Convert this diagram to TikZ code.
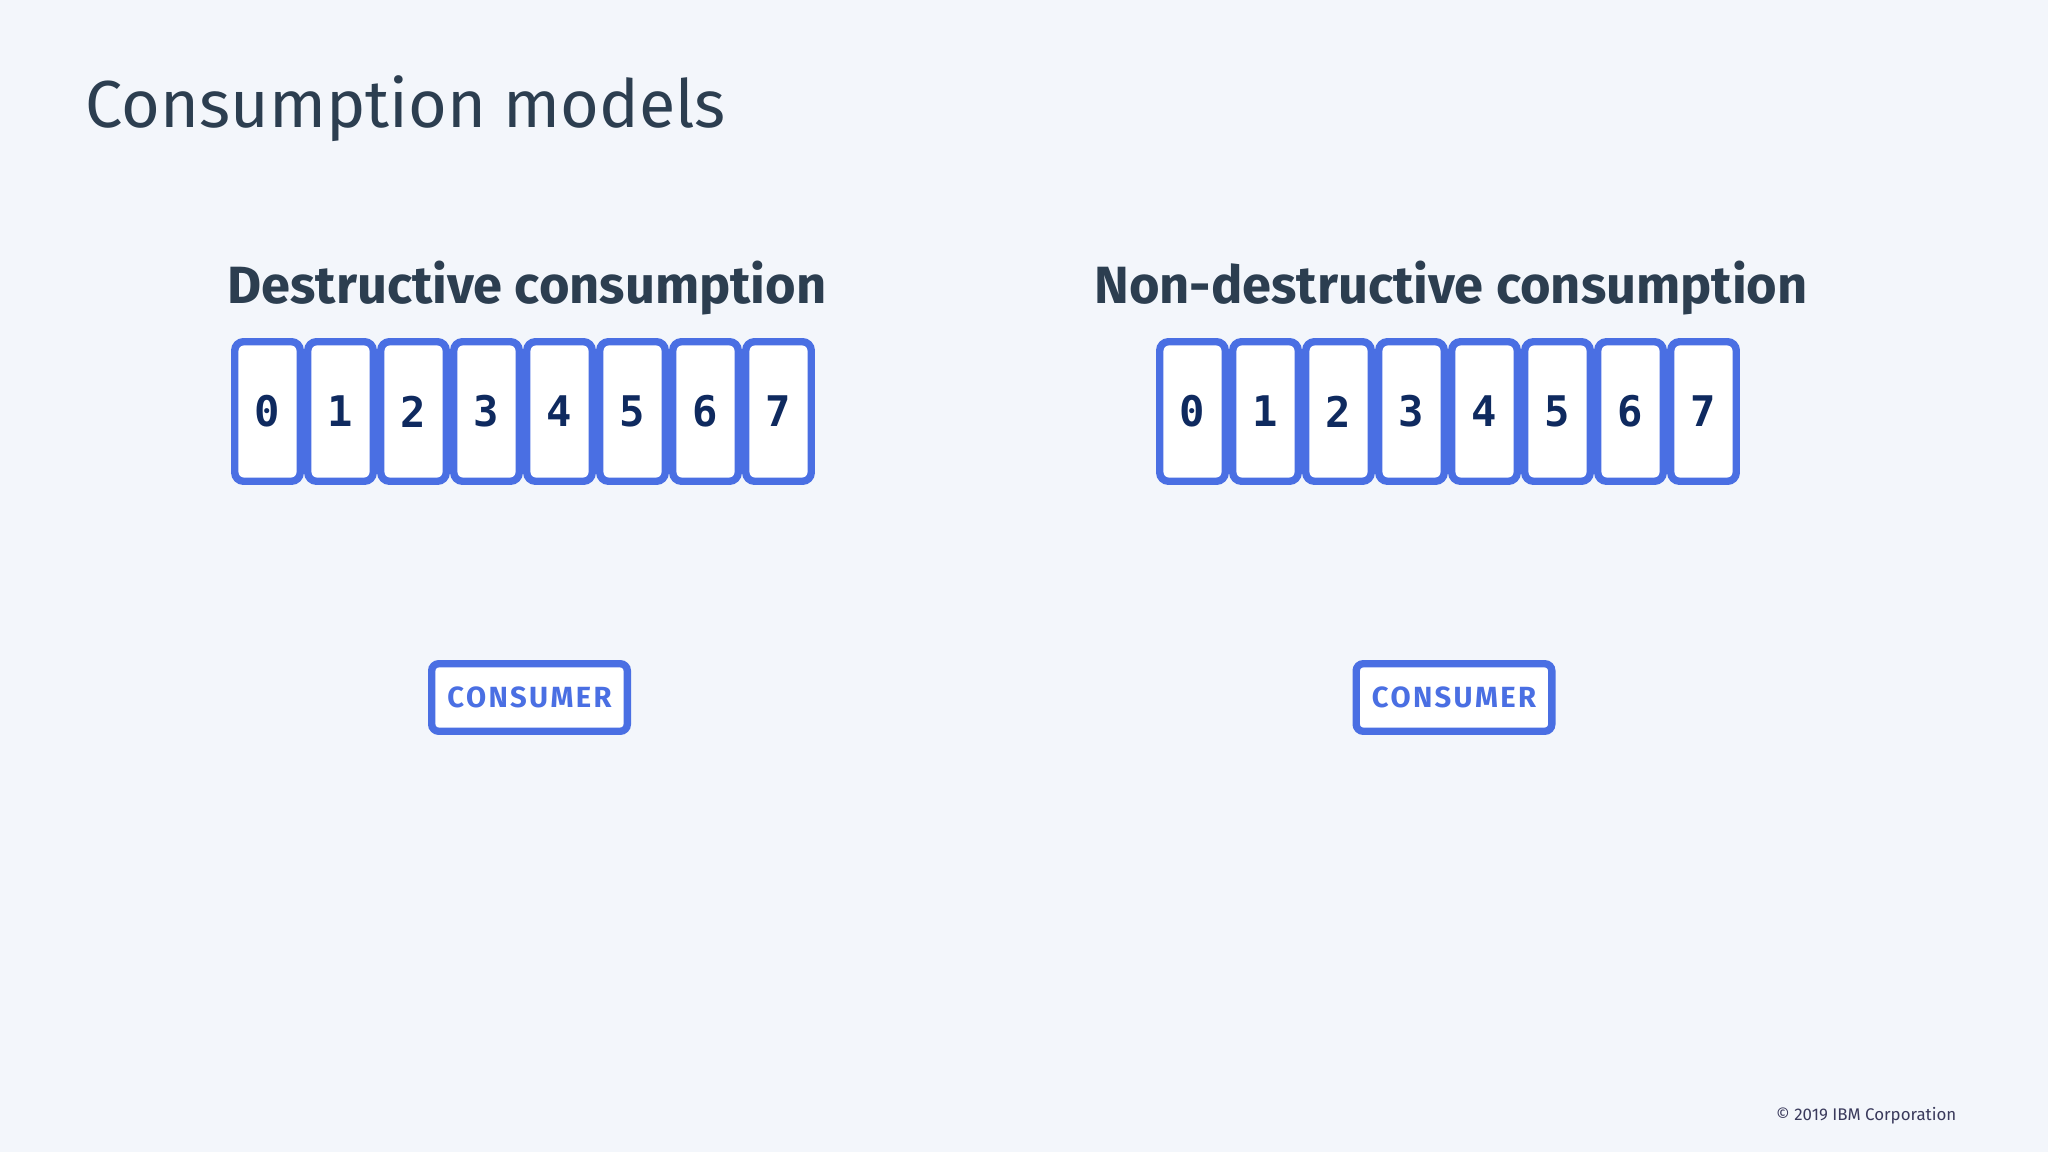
\documentclass[tikz,border=0pt]{standalone}
\usepackage{fontspec}
\setmainfont{Fira Sans}
\setmonofont{DejaVu Sans Mono}

\definecolor{slide-bg}{HTML}{F3F6FB}
\definecolor{slot-blue}{HTML}{4A6FE3}
\definecolor{digit-navy}{HTML}{0F2A5F}
\definecolor{heading}{HTML}{2C3E50}
\definecolor{footer}{HTML}{3A3A5C}

\tikzstyle{slot}=[draw=slot-blue, fill=white, line width=2.1pt, rounded corners=2.5pt,
  minimum width=0.655cm, minimum height=1.395cm, inner sep=0pt, text=digit-navy,
  font=\ttfamily\bfseries\fontsize{12}{12}\selectfont]
\tikzstyle{consumer-box}=[draw=slot-blue, fill=white, line width=2.1pt, rounded corners=2pt,
  minimum width=1.955cm, minimum height=0.675cm, inner sep=0pt, text=slot-blue,
  font=\bfseries\fontsize{8.3}{9}\selectfont\addfontfeatures{LetterSpace=8}]
\tikzstyle{model-title}=[anchor=base, inner sep=0pt, text=heading,
  font=\bfseries\fontsize{14.9}{16}\selectfont]

\begin{document}
\begin{tikzpicture}[x=0.01cm, y=0.01cm]
      \fill[slide-bg] (0,0) rectangle (2048,-1152);
      \useasboundingbox (0,0) rectangle (2048,-1152);

      \node (page-title) at (85,-128)
            [anchor=base west, inner sep=0pt, text=heading, font=\fontsize{18.9}{22}\selectfont] {Consumption models};

      % destructive
      \node (title-left) at (527,-304) [model-title] {Destructive consumption};
      \node (left0) at (267.5,-411.5) [slot] {0};
      \node (left1) at (340.5,-411.5) [slot] {1};
      \node (left2) at (413.5,-411.5) [slot] {2};
      \node (left3) at (486.5,-411.5) [slot] {3};
      \node (left4) at (559.5,-411.5) [slot] {4};
      \node (left5) at (632.5,-411.5) [slot] {5};
      \node (left6) at (705.5,-411.5) [slot] {6};
      \node (left7) at (778.5,-411.5) [slot] {7};
      \node (consumer-left) at (529.5,-697.5) [consumer-box] {CONSUMER};

      % non-destructive
      \node (title-right) at (1451,-304) [model-title] {Non-destructive consumption};
      \node (right0) at (1192.5,-411.5) [slot] {0};
      \node (right1) at (1265.5,-411.5) [slot] {1};
      \node (right2) at (1338.5,-411.5) [slot] {2};
      \node (right3) at (1411.5,-411.5) [slot] {3};
      \node (right4) at (1484.5,-411.5) [slot] {4};
      \node (right5) at (1557.5,-411.5) [slot] {5};
      \node (right6) at (1630.5,-411.5) [slot] {6};
      \node (right7) at (1703.5,-411.5) [slot] {7};
      \node (consumer-right) at (1454,-697.5) [consumer-box] {CONSUMER};

      \node (copyright) at (1957,-1120)
            [anchor=base east, inner sep=0pt, text=footer, font=\fontsize{4.8}{5}\selectfont] {© 2019 IBM Corporation};
    \end{tikzpicture}
\end{document}
